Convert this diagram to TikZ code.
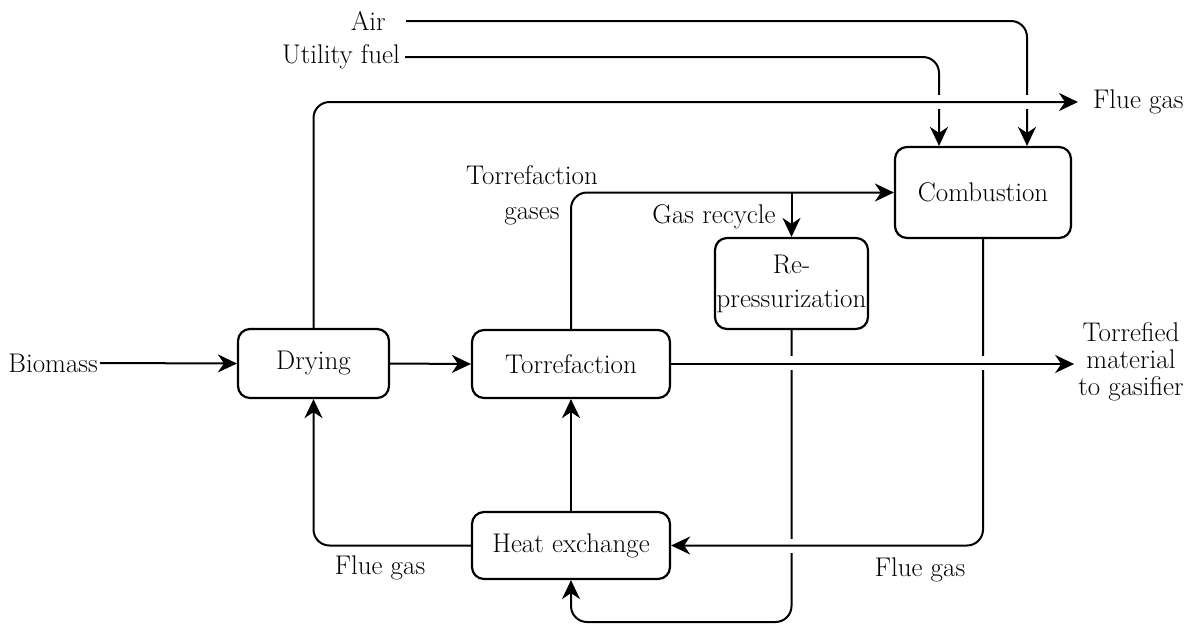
\documentclass[tikz,border=0pt]{standalone}
\usepackage{fontspec}
\usetikzlibrary{arrows.meta,calc}
\begin{document}
\begin{tikzpicture}[x=1pt,y=-1pt,
  every node/.style={font=\fontsize{27}{27}\selectfont},
  box/.style={draw,line width=2.2pt,rounded corners=12pt,inner sep=0pt,align=center},
  conn/.style={line width=2pt,rounded corners=16pt},
  arr/.style={conn,-{Stealth[length=19pt,width=18pt,inset=6pt]}},
  gap/.style={fill=white,draw=none}]
\useasboundingbox (0,0) rectangle (1193,625);
% boxes
\node[box,minimum width=151pt,minimum height=69pt] (dry) at (313.5,363.5) {Drying};
\node[box,minimum width=198pt,minimum height=68pt] (tor) at (571,364) {Torrefaction};
\node[box,minimum width=153pt,minimum height=91pt,font=\fontsize{27}{34}\selectfont] (rep) at (791.5,283.5) {Re-\\pressurization};
\node[box,minimum width=176pt,minimum height=91pt] (com) at (983,192.5) {Combustion};
\node[box,minimum width=198pt,minimum height=67pt] (hx) at (571,545.5) {Heat exchange};
% text nodes
\node[anchor=east,inner xsep=2pt] (bio) at (100,363) {Biomass};
\node[anchor=east,inner xsep=20pt] (air) at (406,21) {Air};
\node[anchor=east,inner xsep=5pt] (fuel) at (405,57) {Utility fuel};
\node[anchor=west,inner xsep=15pt] (flue1) at (1078,102) {Flue gas};
\node[align=center,inner xsep=4pt] (prod) at (1131,362) {Torrefied\\material\\to gasifier};
\node[align=center,font=\fontsize{27}{35}\selectfont] (tgl) at (532,195) {Torrefaction\\gases};
\node (grl) at (714,217) {Gas recycle};
\node (fl2) at (380,568) {Flue gas};
\node (fl3) at (920,570) {Flue gas};
\coordinate (split) at (rep.north |- com.west);
\coordinate (loopb) at (791.5,622);
% connectors drawn first (crossed ones)
\draw[arr] (air.east) -| ([xshift=44pt]com.north);
\draw[arr] (fuel.east) -| ([xshift=-44pt]com.north);
\draw[arr] (rep.south) -- (loopb) -| (hx.south);
\fill[gap] (787,539) rectangle (796,553);
\draw[arr] (com.south) |- (hx.east);
\fill[gap] (787,356) rectangle (796,370);
\fill[gap] (978.5,356) rectangle (987.5,370);
\fill[gap] (934.5,95) rectangle (943.5,109);
\fill[gap] (1022.5,95) rectangle (1031.5,109);
% crossing connectors
\draw[arr] (tor.east) -- (tor.east -| prod.west);
\draw[arr] (dry.north) |- (flue1.west);
% others
\draw[arr] (bio.east) -- (dry.west);
\draw[arr] (dry.east) -- (tor.west);
\draw[arr] (tor.north) |- (com.west);
\draw[arr] (split) -- (rep.north);
\draw[arr] (hx.north) -- (tor.south);
\draw[arr] (hx.west) -| (dry.south);
\end{tikzpicture}
\end{document}
